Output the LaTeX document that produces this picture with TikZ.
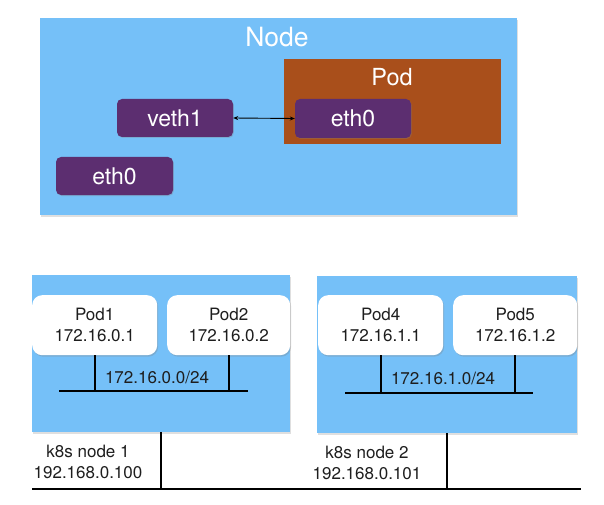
\documentclass[tikz,border=0pt]{standalone}
\usepackage{fontspec}
\setmainfont{TeX Gyre Heros}
\usetikzlibrary{shadows,arrows.meta}
\definecolor{nodeblue}{RGB}{117,192,248}
\definecolor{podbrown}{RGB}{169,79,27}
\definecolor{ifpurple}{RGB}{92,46,112}
\definecolor{txtdark}{RGB}{30,30,30}
\tikzset{
  hostbox/.style={fill=nodeblue, draw=none, anchor=north west, inner sep=0pt,
    drop shadow={shadow xshift=1pt, shadow yshift=-1.5pt, opacity=0.25}},
  podbox/.style={fill=podbrown, draw=none, anchor=north west, inner sep=0pt},
  ifbox/.style={fill=ifpurple, draw=none, rounded corners=5pt, text=white,
    font=\fontsize{23}{26}\selectfont, inner sep=0pt,
    drop shadow={shadow xshift=0.8pt, shadow yshift=-1pt, opacity=0.3}},
  podcard/.style={fill=white, draw=none, rounded corners=10pt, anchor=north west,
    inner sep=0pt, align=center, text=txtdark, font=\fontsize{17}{21}\selectfont,
    drop shadow={shadow xshift=1pt, shadow yshift=-1.5pt, opacity=0.3}},
  bigtitle/.style={text=white, inner sep=0pt},
  smalltxt/.style={text=txtdark, inner sep=0pt, font=\fontsize{17}{21}\selectfont, align=center},
  wire/.style={line width=1.8pt, black},
}
\begin{document}
\begin{tikzpicture}[x=1pt,y=-1pt]
\useasboundingbox (0,0) rectangle (604,505);
% ---- top diagram ----
\node[hostbox, minimum width=477pt, minimum height=197pt] (host) at (40,18) {};
\node[bigtitle, font=\fontsize{26.5}{30}\selectfont] (hosttitle) at (277,37) {Node};
\node[podbox, minimum width=217pt, minimum height=85pt] (pod) at (284,59) {};
\node[bigtitle, font=\fontsize{23.5}{27}\selectfont] (podtitle) at (392,77) {Pod};
\node[ifbox, minimum width=116pt, minimum height=38pt] (veth) at (175,118) {veth1};
\node[ifbox, minimum width=116pt, minimum height=39pt] (podeth) at (353,118.5) {eth0};
\node[ifbox, minimum width=117pt, minimum height=38pt] (hosteth) at (114.5,176) {eth0};
\draw[line width=0.9pt, {Stealth[length=5pt,width=4pt]}-{Stealth[length=5pt,width=4pt]}] (veth.east) -- (podeth.west);
% ---- bottom diagram ----
\node[hostbox, minimum width=258pt, minimum height=157pt] (n1) at (32,275) {};
\node[hostbox, minimum width=260pt, minimum height=157pt] (n2) at (317,276) {};
\node[podcard, minimum width=125pt, minimum height=60pt] (p1) at (32,295) {Pod1\\172.16.0.1};
\node[podcard, minimum width=123pt, minimum height=60pt] (p2) at (167,295) {Pod2\\172.16.0.2};
\node[podcard, minimum width=125pt, minimum height=60pt] (p4) at (318,295) {Pod4\\172.16.1.1};
\node[podcard, minimum width=124pt, minimum height=60pt] (p5) at (453,295) {Pod5\\172.16.1.2};
\coordinate (b1l) at (59,391);
\coordinate (b1r) at (248,391);
\coordinate (b2l) at (345,393);
\coordinate (b2r) at (533,393);
\draw[wire] (b1l) -- (b1r);
\draw[wire] (b2l) -- (b2r);
\draw[wire] (p1.south) -- (p1.south |- b1l);
\draw[wire] (p2.south) -- (p2.south |- b1l);
\draw[wire] (p4.south) -- (p4.south |- b2l);
\draw[wire] (p5.south) -- (p5.south |- b2l);
\node[smalltxt] (net1) at (157,377) {172.16.0.0/24};
\node[smalltxt] (net2) at (443,378) {172.16.1.0/24};
\coordinate (gl) at (32,489);
\coordinate (gr) at (581,489);
\draw[wire] (gl) -- (gr);
\draw[wire] (n1.south) -- (n1.south |- gl);
\draw[wire] (n2.south) -- (n2.south |- gl);
\node[smalltxt] (lab1) at (88,462) {k8s node 1\\192.168.0.100};
\node[smalltxt] (lab2) at (367,463) {k8s node 2\\192.168.0.101};
\end{tikzpicture}
\end{document}
